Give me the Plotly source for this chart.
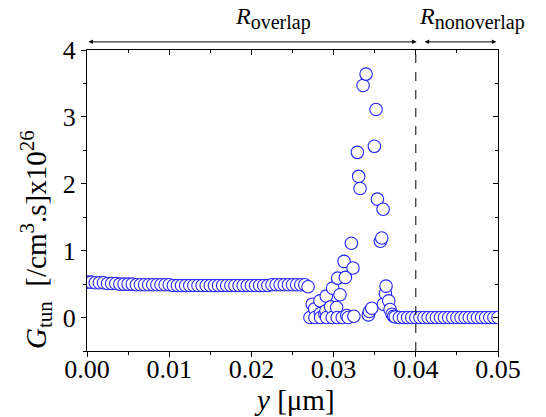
import plotly.graph_objects as go

# ---- data ----
band_left_x = [0.0000, 0.0005, 0.0010, 0.0015, 0.0020, 0.0025, 0.0030, 0.0035, 0.0040, 0.0045,
               0.0050, 0.0055, 0.0060, 0.0065, 0.0070, 0.0075, 0.0080, 0.0085, 0.0090, 0.0095,
               0.0100, 0.0105, 0.0110, 0.0115, 0.0120, 0.0125, 0.0130, 0.0135, 0.0140, 0.0145,
               0.0150, 0.0155, 0.0160, 0.0165, 0.0170, 0.0175, 0.0180, 0.0185, 0.0190, 0.0195,
               0.0200, 0.0205, 0.0210, 0.0215, 0.0220, 0.0225, 0.0230, 0.0235, 0.0240, 0.0245,
               0.0250, 0.0255, 0.0260, 0.0265, 0.0269]
band_left_g = [0.53, 0.53, 0.52, 0.52, 0.52, 0.51, 0.51, 0.51, 0.50, 0.50,
               0.50, 0.50, 0.49, 0.49, 0.49, 0.49, 0.49, 0.49, 0.49, 0.49,
               0.49, 0.48, 0.48, 0.48, 0.48, 0.48, 0.48, 0.48, 0.48, 0.48,
               0.48, 0.48, 0.48, 0.48, 0.48, 0.48, 0.48, 0.48, 0.48, 0.48,
               0.48, 0.48, 0.48, 0.48, 0.48, 0.49, 0.49, 0.49, 0.49, 0.49,
               0.49, 0.49, 0.49, 0.49, 0.46]

peak_x = [0.02712, 0.02740, 0.02769, 0.02773, 0.02834, 0.02840, 0.02842, 0.02895, 0.02907, 0.02911,
          0.02915, 0.02964, 0.02983, 0.02988, 0.03037, 0.03044, 0.03049, 0.03078, 0.03105, 0.03127,
          0.03143, 0.03160, 0.03178, 0.03216, 0.03236, 0.03247, 0.03289, 0.03305, 0.03322, 0.03358,
          0.03395, 0.03423, 0.03435, 0.03464, 0.03496, 0.03516, 0.03533, 0.03569, 0.03586, 0.03602,
          0.03606, 0.03630, 0.03638, 0.03671, 0.03687, 0.03711]
peak_g = [0.00, 0.20, 0.13, 0.00, 0.25, 0.06, 0.00, 0.05, 0.10, 0.32,
          0.00, 0.16, 0.00, 0.44, 0.15, 0.00, 0.59, 0.34, 0.00, 0.84,
          0.60, 0.03, 0.00, 1.11, 0.74, 0.02, 2.47, 2.11, 1.93, 3.47,
          3.64, 0.04, 0.09, 0.14, 2.56, 3.11, 1.77, 1.14, 1.19, 1.62,
          0.20, 0.36, 0.47, 0.25, 0.12, 0.05]

band_right_x = [0.0373, 0.0375, 0.0380, 0.0385, 0.0390, 0.0395, 0.0400, 0.0405, 0.0410, 0.0415,
                0.0420, 0.0425, 0.0430, 0.0435, 0.0440, 0.0445, 0.0450, 0.0455, 0.0460, 0.0465,
                0.0470, 0.0475, 0.0480, 0.0485, 0.0490, 0.0495, 0.0500]
band_right_g = [0.02, 0.01, 0.00, 0.00, 0.00, 0.00, 0.00, 0.00, 0.00, 0.00,
                0.00, 0.00, 0.00, 0.00, 0.00, 0.00, 0.00, 0.00, 0.00, 0.00,
                0.00, 0.00, 0.00, 0.00, 0.00, 0.00, 0.00]

x_range = [0.0, 0.05]
y_range = [-0.5, 4.0]
x_ticks = [0.00, 0.01, 0.02, 0.03, 0.04, 0.05]
x_ticklabels = ["0.00", "0.01", "0.02", "0.03", "0.04", "0.05"]
y_ticks = [0, 1, 2, 3, 4]
y_ticklabels = ["0", "1", "2", "3", "4"]
boundary_x = 0.04

xs = band_left_x + peak_x + band_right_x
gs = band_left_g + peak_g + band_right_g

FONT = "Liberation Serif, Times New Roman, serif"
BLUE = "rgb(35,35,255)"

fig = go.Figure()
fig.add_trace(go.Scatter(
    x=xs, y=gs, mode="markers",
    marker=dict(symbol="circle", size=12.5, color="white",
                line=dict(color=BLUE, width=1.1)),
    showlegend=False, hoverinfo="skip"))
# empty trace so the mirrored (inside-tick) axes are drawn
fig.add_trace(go.Scatter(x=[], y=[], xaxis="x2", yaxis="y2",
                         showlegend=False, hoverinfo="skip"))

axis_common = dict(showgrid=False, zeroline=False, showline=True,
                   linecolor="black", linewidth=1.2, tickcolor="black",
                   tickwidth=1.2)

fig.update_layout(
    width=546, height=417,
    margin=dict(l=87, r=48, t=50, b=66),
    paper_bgcolor="white", plot_bgcolor="white",
    font=dict(family=FONT, size=25, color="black"),
    xaxis=dict(range=x_range, tickmode="array", tickvals=x_ticks, ticktext=x_ticklabels,
               ticks="outside", ticklen=5, ticklabelstandoff=-10,
               minor=dict(dtick=0.005, tick0=0, ticks="outside", ticklen=3,
                          tickcolor="black", tickwidth=1.2),
               tickfont=dict(family=FONT, size=26), **axis_common),
    yaxis=dict(range=y_range, tickmode="array", tickvals=y_ticks, ticktext=y_ticklabels,
               ticks="outside", ticklen=5,
               minor=dict(dtick=0.5, tick0=0, ticks="outside", ticklen=3,
                          tickcolor="black", tickwidth=1.2),
               tickfont=dict(family=FONT, size=26), **axis_common),
    xaxis2=dict(range=x_range, overlaying="x", side="top", tickmode="array",
                tickvals=x_ticks, showticklabels=False, ticks="inside", ticklen=5,
                minor=dict(dtick=0.005, tick0=0, ticks="inside", ticklen=3,
                           tickcolor="black", tickwidth=1.2),
                **axis_common),
    yaxis2=dict(range=y_range, overlaying="y", side="right", tickmode="array",
                tickvals=y_ticks, showticklabels=False, ticks="inside", ticklen=5,
                minor=dict(dtick=0.5, tick0=0, ticks="inside", ticklen=3,
                           tickcolor="black", tickwidth=1.2),
                **axis_common),
)

fig.add_shape(type="line", xref="x", yref="paper", x0=boundary_x, x1=boundary_x,
              y0=0, y1=1, line=dict(color="black", width=1, dash="dash"))

def small(t, px):
    return f"<span style='font-size:{px}px'>{t}</span>"

# axis titles
fig.add_annotation(xref="paper", yref="paper", x=0.506, y=-0.163,
                   text="<i>y</i> [μm]", showarrow=False, xanchor="center", yanchor="middle",
                   font=dict(family=FONT, size=29))
fig.add_annotation(xref="paper", yref="paper", x=-0.124, y=0.369,
                   text=("<i>G</i><sub>" + small("tun", 21) + "</sub>  [/cm<sup>"
                         + small("3", 21) + "</sup>.s]x10<sup>" + small("26", 21) + "</sup>"),
                   showarrow=False, textangle=-90, xanchor="center", yanchor="middle",
                   font=dict(family=FONT, size=29))

# region arrows
arrow_y = 1.027
for x0, x1 in [(0.0, 0.0401), (0.0409, 0.0498)]:
    fig.add_annotation(xref="x", yref="y domain", axref="x", ayref="y domain",
                       x=x1, y=arrow_y, ax=x0, ay=arrow_y, text="",
                       showarrow=True, arrowhead=2, arrowside="end+start",
                       arrowsize=0.9, arrowwidth=1, arrowcolor="black")

fig.add_annotation(xref="paper", yref="paper", x=0.452, y=1.045,
                   text="<i>R</i><sub>" + small("overlap", 20) + "</sub>", showarrow=False,
                   xanchor="center", yanchor="bottom", font=dict(family=FONT, size=24))
fig.add_annotation(xref="paper", yref="paper", x=0.803, y=1.045,
                   text="<i>R</i><sub>" + small("nonoverlap", 20) + "</sub>", showarrow=False,
                   xanchor="left", yanchor="bottom", font=dict(family=FONT, size=24))

fig.write_html("out.html", config={"displayModeBar": False},
               post_script="document.body.style.margin='0';document.body.style.padding='0';")
